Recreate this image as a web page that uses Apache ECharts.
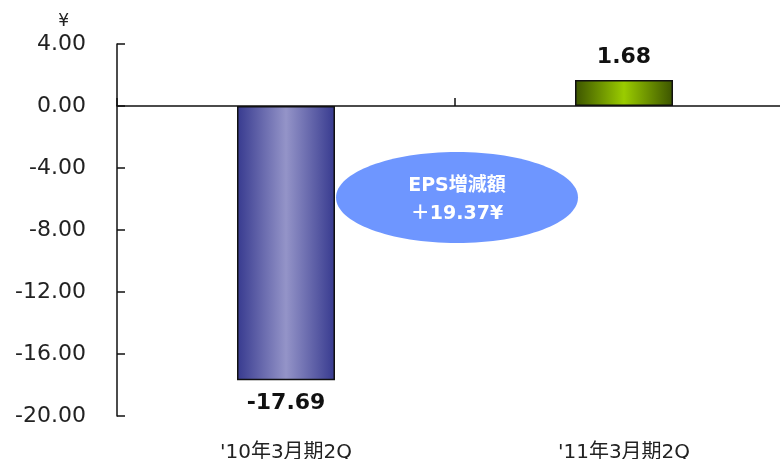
<!DOCTYPE html>
<html>
<head>
<meta charset="utf-8">
<script src="https://cdn.jsdelivr.net/npm/echarts@6/dist/echarts.min.js"></script>
<style>
  html, body { margin: 0; padding: 0; background: #fff; }
  #chart { width: 780px; height: 459px; }
</style>
</head>
<body>
<div id="chart"></div>
<script>
// EPS per half-year period (yen)
var categories = ["'10年3月期2Q", "'11年3月期2Q"];
var epsValues = [-17.69, 1.68];
var yTicks = { min: -20, max: 4, interval: 4 };
var unitLabel = '¥';
var bubbleTitle = 'EPS増減額';

var FONT = '"DejaVu Sans", "Noto Sans CJK JP", sans-serif';

var barColors = [
  new echarts.graphic.LinearGradient(0, 0, 1, 0, [
    { offset: 0, color: '#373a8f' },
    { offset: 0.5, color: '#9494c8' },
    { offset: 1, color: '#373a8f' }
  ]),
  new echarts.graphic.LinearGradient(0, 0, 1, 0, [
    { offset: 0, color: '#3c5400' },
    { offset: 0.5, color: '#9acc00' },
    { offset: 1, color: '#3c5400' }
  ])
];

var change = epsValues[1] - epsValues[0];

var chart = echarts.init(document.getElementById('chart'), null, { renderer: 'canvas' });

chart.setOption({
  animation: false,
  backgroundColor: '#ffffff',
  // plot area runs past the right edge so the zero line reaches the border
  grid: { left: 117, top: 44, width: 676, height: 372, outerBoundsMode: 'none', containLabel: false },
  xAxis: [
    {
      type: 'category',
      data: categories,
      position: 'bottom',
      axisLine: { show: false, onZero: false },
      axisTick: { show: false },
      axisLabel: { margin: 27, fontSize: 20, color: '#222', fontFamily: FONT }
    },
    {
      type: 'category',
      data: categories,
      position: 'bottom',
      axisLine: { show: true, onZero: true, lineStyle: { color: '#111', width: 1.5 } },
      axisTick: { show: true, inside: true, length: 8, lineStyle: { color: '#111', width: 1.5 } },
      axisLabel: { show: false }
    }
  ],
  yAxis: {
    type: 'value',
    min: yTicks.min,
    max: yTicks.max,
    interval: yTicks.interval,
    name: unitLabel,
    nameLocation: 'end',
    nameGap: 14,
    nameTextStyle: { fontSize: 17, color: '#222', fontFamily: FONT, align: 'right', padding: [0, 48, 0, 0] },
    axisLine: { show: true, lineStyle: { color: '#111', width: 1.5 } },
    axisTick: { show: true, inside: true, length: 8, lineStyle: { color: '#111', width: 1.5 } },
    splitLine: { show: false },
    axisLabel: {
      margin: 31,
      fontSize: 22,
      color: '#222',
      fontFamily: FONT,
      padding: [5, 0, 0, 0],
      formatter: function (v) { return v.toFixed(2); }
    }
  },
  series: [{
    type: 'bar',
    xAxisIndex: 0,
    barWidth: 98,
    data: epsValues.map(function (v, i) {
      return {
        value: v,
        itemStyle: { color: barColors[i], borderColor: '#111', borderWidth: 1.5 },
        label: { position: v < 0 ? 'bottom' : 'top' }
      };
    }),
    label: {
      show: true,
      distance: 12,
      fontSize: 22,
      fontWeight: 'bold',
      color: '#111',
      fontFamily: FONT,
      formatter: function (p) { return p.value.toFixed(2); }
    }
  }]
});

// Difference bubble placed between the two periods
var p0 = chart.convertToPixel({ xAxisIndex: 0, yAxisIndex: 0 }, [0, -5.9]);
var p1 = chart.convertToPixel({ xAxisIndex: 0, yAxisIndex: 0 }, [1, -5.9]);
var cx = (p0[0] + p1[0]) / 2 + 2;
var cy = p0[1];

chart.setOption({
  graphic: [
    {
      type: 'ellipse',
      shape: { cx: cx, cy: cy, rx: 121, ry: 45.5 },
      style: { fill: '#6e96ff' },
      z: 10
    },
    {
      type: 'text',
      x: cx, y: cy - 11,
      style: {
        text: bubbleTitle,
        fill: '#fff', font: 'bold 19px ' + FONT,
        align: 'center', verticalAlign: 'middle'
      },
      z: 11
    },
    {
      type: 'text',
      x: cx, y: cy + 17,
      style: {
        text: '＋' + change.toFixed(2) + unitLabel,
        fill: '#fff', font: 'bold 19px ' + FONT,
        align: 'center', verticalAlign: 'middle'
      },
      z: 11
    }
  ]
});
</script>
</body>
</html>
